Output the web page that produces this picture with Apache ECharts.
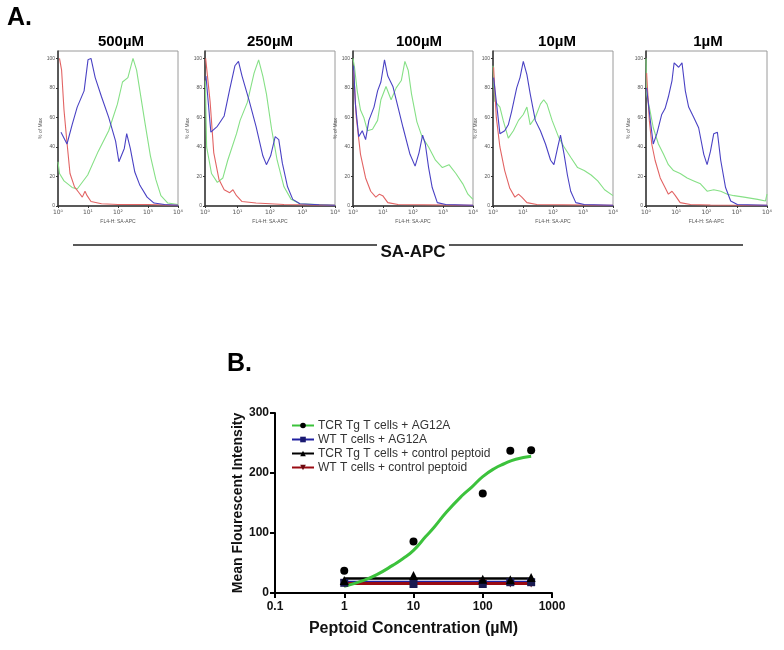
<!DOCTYPE html>
<html>
<head>
<meta charset="utf-8">
<script src="https://cdn.jsdelivr.net/npm/echarts@6/dist/echarts.min.js"></script>
<style>
html,body{margin:0;padding:0;background:#fff;}
#chart{width:784px;height:650px;}
</style>
</head>
<body>
<div id="chart"></div>
<script>
// ---------- Panel A: histograms (x = log10 fluorescence, y = % of max) ----------
const panelTitles = ['500µM', '250µM', '100µM', '10µM', '1µM'];
const fluoTicks = ['10⁰', '10¹', '10²', '10³', '10⁴'];
const pctTicks = [0, 20, 40, 60, 80, 100];

const blue500 = [[0.1,50],[0.3,42],[0.47,55],[0.64,67],[0.87,78],[1.0,99],[1.1,100],[1.24,87],[1.45,74],[1.69,60],[1.92,44],[2.03,30],[2.21,39],[2.29,49],[2.41,39],[2.56,23],[2.73,14],[2.97,6],[3.2,2],[3.55,1],[4,0.5]];
const green500 = [[0,30],[0.05,22],[0.2,17],[0.47,12.6],[0.64,11.5],[0.99,21],[1.34,37],[1.69,51],[1.98,69],[2.15,84],[2.33,87],[2.5,100],[2.62,92],[2.73,78],[2.91,55],[3.08,34],[3.26,18],[3.43,7],[3.66,2],[4,1]];
const red500 = [[0.05,100],[0.12,92],[0.2,65],[0.29,45],[0.4,22],[0.55,13],[0.7,9],[0.81,6],[0.9,10],[0.97,7],[1.1,3],[1.45,1.5],[2,1],[3,1],[4,0.5]];

const blue250 = [[0.03,88],[0.18,50],[0.38,54],[0.59,61],[0.76,79],[0.92,95],[1.03,98],[1.14,88],[1.35,72],[1.57,54],[1.78,34],[1.89,28],[2.02,34],[2.16,47],[2.27,45],[2.38,29],[2.54,13],[2.7,4.5],[2.92,1.5],[3.51,0.8],[4,0.5]];
const green250 = [[0.01,85],[0.05,40],[0.2,22],[0.38,16],[0.55,19],[0.7,31],[0.97,49],[1.08,58],[1.3,70],[1.51,90],[1.65,99],[1.78,88],[1.89,76],[2.05,52],[2.22,31],[2.43,13],[2.65,4.5],[2.92,1.5],[4,0.5]];
const red250 = [[0.02,100],[0.16,70],[0.27,36],[0.43,18],[0.59,11],[0.76,9],[0.86,11],[0.97,7],[1.14,3],[1.57,2],[2.43,1],[4,0.5]];

const blue100 = [[0.02,95],[0.08,69],[0.19,47],[0.31,51],[0.42,45],[0.53,58],[0.7,67],[0.82,78],[0.93,84],[1.05,99],[1.16,88],[1.33,81],[1.5,67],[1.67,53],[1.9,35],[2.07,27],[2.2,36],[2.32,48],[2.41,42],[2.52,26],[2.64,12.5],[2.81,2.3],[3.09,1],[4,0.5]];
const green100 = [[0,100],[0.05,94],[0.14,78],[0.25,65],[0.36,60],[0.48,51],[0.65,52],[0.82,58],[0.93,72],[1.1,81],[1.27,72],[1.44,80],[1.61,85],[1.73,98],[1.84,92],[1.95,76],[2.13,57],[2.3,47],[2.52,40],[2.75,31],[2.98,26],[3.2,28],[3.43,22],[3.66,15],[3.83,8],[4,4.5]];
const red100 = [[0.02,92],[0.11,60],[0.25,35],[0.42,19],[0.59,10],[0.76,6],[0.88,8],[0.99,7],[1.16,2.3],[1.5,1],[4,0.5]];

const blue10 = [[0.02,87],[0.11,71],[0.23,49],[0.39,51],[0.51,55],[0.62,64],[0.79,80],[0.9,87],[1.01,98],[1.13,89],[1.24,76],[1.41,58],[1.58,51],[1.75,42],[1.92,31],[2.03,28],[2.16,40],[2.25,48],[2.37,35],[2.48,21],[2.59,10],[2.76,2.3],[3.04,1],[4,0.5]];
const green10 = [[0,95],[0.06,71],[0.23,67],[0.34,58],[0.51,46],[0.68,51],[0.85,58],[1.01,62],[1.13,67],[1.24,55],[1.41,60],[1.58,69],[1.69,72],[1.8,69],[1.97,58],[2.2,46],[2.37,40],[2.59,33],[2.82,26],[3.04,24],[3.27,21],[3.49,17],[3.72,11],[4,7]];
const red10 = [[0.02,94],[0.11,60],[0.23,40],[0.39,24],[0.56,12],[0.73,6],[0.85,8],[0.96,6],[1.13,2.3],[1.46,1],[4,0.5]];

const blue1 = [[0.02,80],[0.13,60],[0.24,42],[0.36,49],[0.52,62],[0.63,66],[0.74,74],[0.86,85],[0.93,97],[1.08,94],[1.19,97],[1.3,78],[1.41,67],[1.58,60],[1.74,53],[1.91,35],[2.02,28],[2.13,37],[2.24,49],[2.36,50],[2.47,31],[2.63,12.5],[2.8,3.4],[3.02,1],[4,0.5]];
const green1 = [[0,100],[0.02,76],[0.13,65],[0.24,53],[0.41,42],[0.58,35],[0.74,28],[0.91,24],[1.13,22],[1.36,19],[1.58,17],[1.8,15],[2.02,10],[2.24,11],[2.47,10],[2.69,8],[2.91,7],[3.24,6],[3.69,4.5],[3.95,3.4],[4,8]];
const red1 = [[0.02,90],[0.11,58],[0.19,42],[0.3,31],[0.47,19],[0.63,12.5],[0.74,8],[0.86,10],[0.97,7],[1.13,2.3],[1.47,1],[2.13,0.7],[4,0.5]];

const histBlue = [blue500, blue250, blue100, blue10, blue1];
const histGreen = [green500, green250, green100, green10, green1];
const histRed = [red500, red250, red100, red10, red1];

// ---------- Panel B: dose response ----------
const concTicks = ['0.1', '1', '10', '100', '1000'];
const concentrations = [1, 10, 100, 250, 500];
const tcrAg = [37, 86, 166, 237, 238];
const wtAg = [17, 15, 15, 18, 18];
const tcrCtrl = [21, 29, 23, 22, 26];
const wtCtrl = [16, 16, 16, 16, 16];
const fitConc = [1, 2, 3, 5, 7, 10, 15, 20, 30, 50, 70, 100, 150, 200, 300, 500];
const fitTcrAg = [11, 22, 31, 46, 57, 71, 94, 110, 135, 162, 177, 194, 208, 215, 223, 228];
const flatConc = [1, 500];
const fitWtAg = [18, 18];
const fitTcrCtrl = [24, 24];
const fitWtCtrl = [16, 16];
const legendNames = ['TCR Tg T cells + AG12A', 'WT T cells + AG12A', 'TCR Tg T cells + control peptoid', 'WT T cells + control peptoid'];

const FONT = '"Liberation Sans", Arial, sans-serif';
const gridsA = [
  {left: 58, width: 120}, {left: 205, width: 130}, {left: 353, width: 120},
  {left: 493, width: 120}, {left: 646, width: 121}
];
const titleCenters = [121, 270, 419, 557, 708];

const grid = [], xAxis = [], yAxis = [], series = [], graphic = [];
const zip = (xs, ys) => xs.map((x, i) => [x, ys[i]]);

gridsA.forEach((g, i) => {
  grid.push({left: g.left, width: g.width, top: 51, height: 155, show: true, borderColor: '#9a9a9a', borderWidth: 1, backgroundColor: 'transparent'});
  xAxis.push({
    gridIndex: i, type: 'value', min: 0, max: 4, interval: 1,
    name: 'FL4-H: SA-APC', nameLocation: 'middle', nameGap: 13,
    nameTextStyle: {fontSize: 5, color: '#555', fontFamily: FONT},
    axisLine: {lineStyle: {color: '#333', width: 1.5}},
    axisTick: {length: 2, lineStyle: {color: '#333'}},
    axisLabel: {fontSize: 6, color: '#555', margin: 3, fontFamily: 'DejaVu Sans', formatter: v => fluoTicks[v]},
    splitLine: {show: false}
  });
  yAxis.push({
    gridIndex: i, type: 'value', min: 0, max: 105, interval: 20,
    name: '% of Max', nameLocation: 'middle', nameGap: 14,
    nameTextStyle: {fontSize: 5, color: '#555', fontFamily: FONT},
    axisLine: {show: true, lineStyle: {color: '#333', width: 1.5}},
    axisTick: {show: true, length: 2, lineStyle: {color: '#333'}},
    axisLabel: {fontSize: 5, color: '#555', margin: 3, showMaxLabel: false, fontFamily: FONT},
    splitLine: {show: false}
  });
  const add = (data, color) => series.push({
    type: 'line', xAxisIndex: i, yAxisIndex: i, data: data, symbol: 'none',
    lineStyle: {color: color, width: 1.1}, silent: true, animation: false
  });
  add(histGreen[i], '#86e086');
  add(histRed[i], '#e26464');
  add(histBlue[i], '#4a42c4');
  graphic.push({type: 'text', x: titleCenters[i], y: 42, style: {text: panelTitles[i], font: 'bold 15px ' + FONT, fill: '#000', textAlign: 'center', textVerticalAlign: 'middle', align: 'center', verticalAlign: 'middle'}});
});

// Panel B grid
grid.push({left: 275, width: 277, top: 413, height: 180});
xAxis.push({
  gridIndex: 5, type: 'log', logBase: 10, min: 0.1, max: 1000,
  name: 'Peptoid Concentration (µM)', nameLocation: 'middle', nameGap: 28,
  nameTextStyle: {fontSize: 16, fontWeight: 'bold', color: '#111', fontFamily: FONT},
  axisLine: {lineStyle: {color: '#000', width: 2}},
  axisTick: {length: 5, lineStyle: {color: '#000', width: 2}},
  minorTick: {show: false},
  axisLabel: {fontSize: 12, fontWeight: 'bold', color: '#111', margin: 8, fontFamily: FONT,
    formatter: v => concTicks[Math.round(Math.log10(v)) + 1]},
  splitLine: {show: false}
});
yAxis.push({
  gridIndex: 5, type: 'value', min: 0, max: 300, interval: 100,
  name: 'Mean Flourescent Intensity', nameLocation: 'middle', nameGap: 29,
  nameTextStyle: {fontSize: 14, fontWeight: 'bold', color: '#111', fontFamily: FONT},
  axisLine: {show: true, lineStyle: {color: '#000', width: 2}},
  axisTick: {show: true, length: 5, lineStyle: {color: '#000', width: 2}},
  axisLabel: {fontSize: 12, fontWeight: 'bold', color: '#111', margin: 6, fontFamily: FONT},
  splitLine: {show: false}
});

const invTri = 'path://M0,0 L10,0 L5,9 Z';
// fitted lines first (legend icons taken from these)
series.push({name: legendNames[1], type: 'line', xAxisIndex: 5, yAxisIndex: 5, data: zip(flatConc, fitWtAg), symbol: 'rect', symbolSize: 7, showSymbol: false, lineStyle: {color: '#2020a0', width: 3}, itemStyle: {color: '#1a1a70', opacity: 1}, animation: false, z: 2});
series.push({name: legendNames[2], type: 'line', xAxisIndex: 5, yAxisIndex: 5, data: zip(flatConc, fitTcrCtrl), symbol: 'triangle', symbolSize: 8, showSymbol: false, lineStyle: {color: '#000', width: 2.5}, itemStyle: {color: '#000', opacity: 1}, animation: false, z: 2});
series.push({name: legendNames[3], type: 'line', xAxisIndex: 5, yAxisIndex: 5, data: zip(flatConc, fitWtCtrl), symbol: invTri, symbolSize: 8, showSymbol: false, lineStyle: {color: '#9a0a12', width: 3}, itemStyle: {color: '#6a0a10', opacity: 1}, animation: false, z: 2});
series.push({name: legendNames[0], type: 'line', xAxisIndex: 5, yAxisIndex: 5, data: zip(fitConc, fitTcrAg), smooth: true, symbol: 'circle', symbolSize: 7, showSymbol: false, lineStyle: {color: '#3cc23c', width: 3}, itemStyle: {color: '#000', opacity: 1}, animation: false, z: 3});
// data points
series.push({name: legendNames[3], type: 'scatter', xAxisIndex: 5, yAxisIndex: 5, data: zip(concentrations, wtCtrl), symbol: invTri, symbolSize: 8, itemStyle: {color: '#6a0a10', opacity: 1}, animation: false, z: 4});
series.push({name: legendNames[1], type: 'scatter', xAxisIndex: 5, yAxisIndex: 5, data: zip(concentrations, wtAg), symbol: 'rect', symbolSize: 8, itemStyle: {color: '#1a1a50', opacity: 1}, animation: false, z: 4});
series.push({name: legendNames[2], type: 'scatter', xAxisIndex: 5, yAxisIndex: 5, data: zip(concentrations, tcrCtrl), symbol: 'triangle', symbolSize: 9, itemStyle: {color: '#000', opacity: 1}, animation: false, z: 4});
series.push({name: legendNames[0], type: 'scatter', xAxisIndex: 5, yAxisIndex: 5, data: zip(concentrations, tcrAg), symbol: 'circle', symbolSize: 8, itemStyle: {color: '#000', opacity: 1}, animation: false, z: 5});

// decorations
graphic.push({type: 'text', x: 7, y: 18, style: {text: 'A.', font: 'bold 25px ' + FONT, fill: '#000', textVerticalAlign: 'middle', verticalAlign: 'middle'}});
graphic.push({type: 'text', x: 227, y: 364, style: {text: 'B.', font: 'bold 25px ' + FONT, fill: '#000', textVerticalAlign: 'middle', verticalAlign: 'middle'}});
graphic.push({type: 'line', shape: {x1: 73, y1: 245, x2: 377, y2: 245}, style: {stroke: '#222', lineWidth: 1.5}});
graphic.push({type: 'line', shape: {x1: 449, y1: 245, x2: 743, y2: 245}, style: {stroke: '#222', lineWidth: 1.5}});
graphic.push({type: 'text', x: 413, y: 252, style: {text: 'SA-APC', font: 'bold 17px ' + FONT, fill: '#111', textAlign: 'center', textVerticalAlign: 'middle', align: 'center', verticalAlign: 'middle'}});

const chart = echarts.init(document.getElementById('chart'), null, {renderer: 'canvas'});
chart.setOption({
  backgroundColor: '#fff',
  animation: false,
  grid: grid, xAxis: xAxis, yAxis: yAxis, series: series, graphic: graphic,
  legend: {
    data: legendNames, orient: 'vertical', left: 286, top: 414,
    itemWidth: 22, itemHeight: 7, itemGap: 1,
    textStyle: {fontSize: 12, color: '#333', fontFamily: FONT, lineHeight: 13, padding: [0, 0, 0, -1]},
    selectedMode: false
  }
});
</script>
</body>
</html>
